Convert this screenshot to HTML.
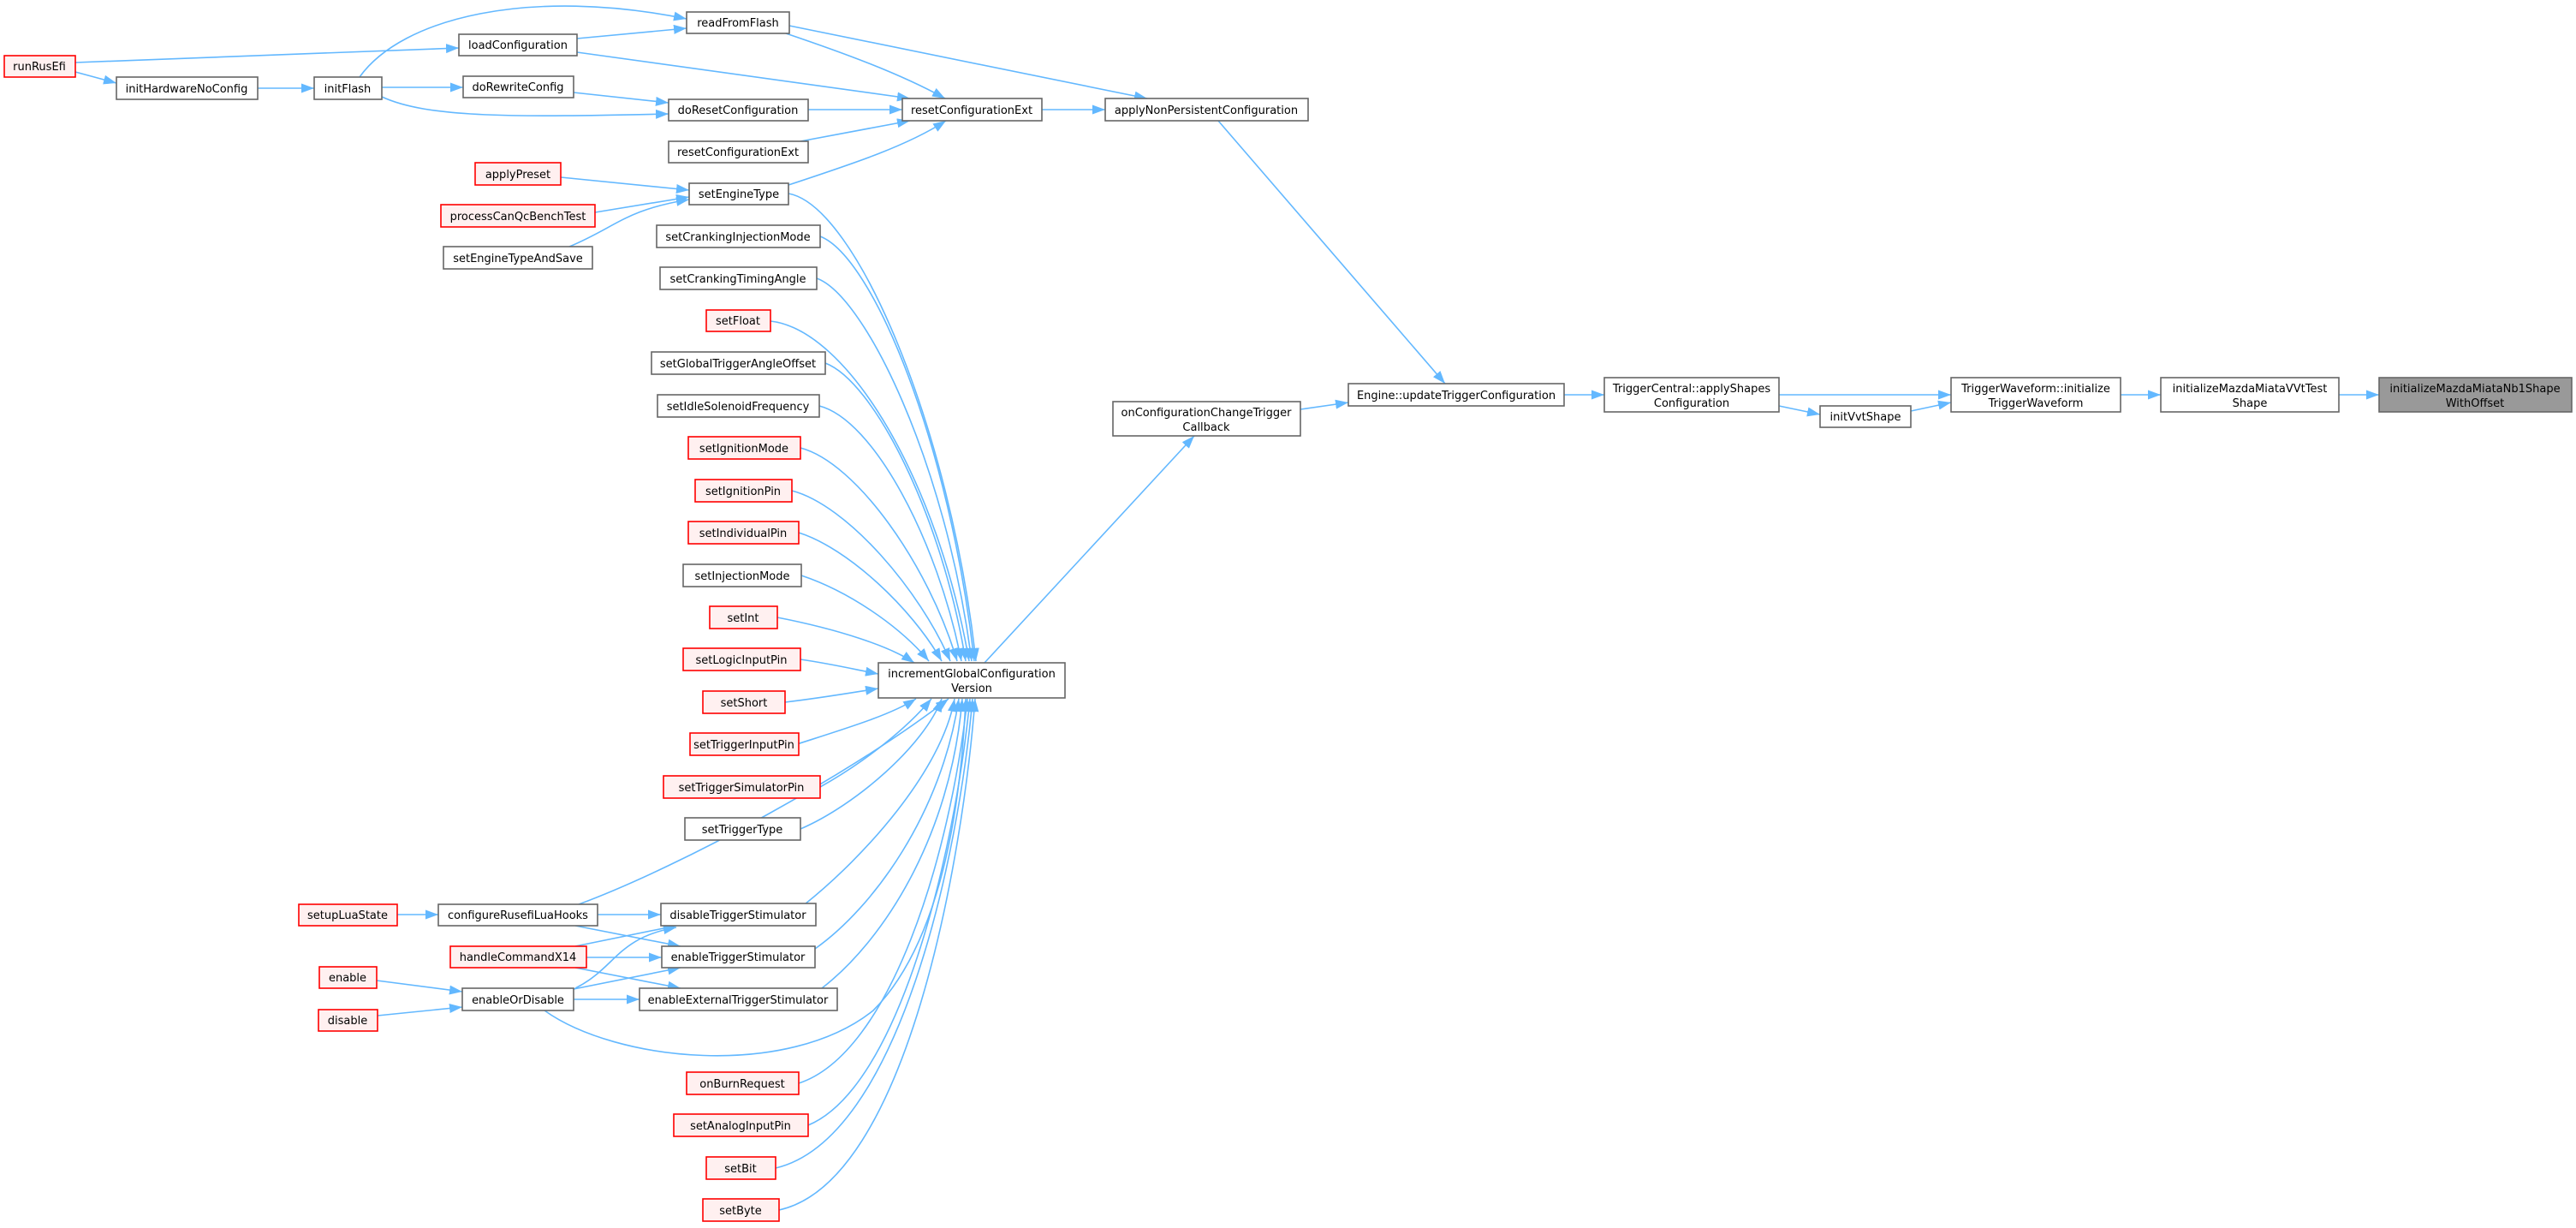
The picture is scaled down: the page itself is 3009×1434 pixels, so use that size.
<!DOCTYPE html>
<html><head><meta charset="utf-8"><style>
html,body{margin:0;padding:0;background:#fff;}
svg{display:block;}
text{font-family:"DejaVu Sans","Liberation Sans",sans-serif;font-size:13px;fill:#000;text-anchor:middle;}
.e{fill:none;stroke:#63b8ff;stroke-width:1.6;marker-end:url(#a);}
.n{fill:#fff;stroke:#666;stroke-width:1.6;}
.r{fill:#fff0f0;stroke:#ff0000;stroke-width:1.6;}
.g{fill:#999;stroke:#666;stroke-width:1.6;}
</style></head><body>
<svg width="3009" height="1434" viewBox="0 0 3009 1434" xmlns="http://www.w3.org/2000/svg">
<defs><marker id="a" markerUnits="userSpaceOnUse" markerWidth="16" markerHeight="12" refX="15" refY="5.5" orient="auto"><path d="M0,0 L15,5.5 L0,11 z" fill="#63b8ff"/></marker></defs>

<!-- edges -->
<path class="e" d="M88,73 L536,56"/>
<path class="e" d="M88,84 L136,97"/>
<path class="e" d="M301,103 L367,103"/>
<path class="e" d="M420,90 C470,20 620,-15 802,22"/>
<path class="e" d="M446,102 L541,102"/>
<path class="e" d="M446,113 C500,138 600,137 781,133"/>
<path class="e" d="M674,45 L802,33"/>
<path class="e" d="M670,108 L781,120"/>
<path class="e" d="M674,61 L1063,115"/>
<path class="e" d="M918,39 C980,60 1050,85 1104,115"/>
<path class="e" d="M922,30 L1340,115"/>
<path class="e" d="M944,128 L1054,128"/>
<path class="e" d="M935,165 L1063,141"/>
<path class="e" d="M921,216 C1000,190 1060,170 1105,141"/>
<path class="e" d="M1217,128 L1291,128"/>
<path class="e" d="M1423,141 L1688,448"/>
<path class="e" d="M1519,478 L1575,470"/>
<path class="e" d="M1150,774 L1395,509"/>
<path class="e" d="M1827,461 L1874,461"/>
<path class="e" d="M2078,461 L2279,461"/>
<path class="e" d="M2078,474 L2126,484"/>
<path class="e" d="M2232,480 L2279,470"/>
<path class="e" d="M2477,461 L2524,461"/>
<path class="e" d="M2732,461 L2779,461"/>
<path class="e" d="M655,207 L805,222"/>
<path class="e" d="M695,248 L805,230"/>
<path class="e" d="M665,288 C720,265 730,245 805,233"/>

<path class="e" d="M958,276 C1020,300 1110,520 1138,772"/>
<path class="e" d="M921,226 C1000,240 1110,500 1140,772"/>
<path class="e" d="M954,325 C1010,345 1105,540 1135,772"/>
<path class="e" d="M900,375 C990,385 1095,560 1132,772"/>
<path class="e" d="M964,424 C1020,445 1100,600 1128,772"/>
<path class="e" d="M957,474 C1020,490 1095,630 1123,772"/>
<path class="e" d="M935,523 C1000,540 1085,660 1118,772"/>
<path class="e" d="M925,573 C990,590 1075,690 1110,772"/>
<path class="e" d="M933,622 C990,640 1065,710 1100,772"/>
<path class="e" d="M936,672 C990,690 1050,730 1085,772"/>
<path class="e" d="M908,721 C980,735 1040,755 1068,774"/>
<path class="e" d="M935,770 C970,775 1000,782 1026,787"/>
<path class="e" d="M917,820 C960,815 1000,808 1026,804"/>
<path class="e" d="M931,869 C990,850 1040,835 1070,816"/>
<path class="e" d="M958,919 C1010,890 1060,850 1088,816"/>
<path class="e" d="M935,968 C1000,940 1080,870 1100,816"/>
<path class="e" d="M676,1056 C800,1010 1000,900 1108,816"/>
<path class="e" d="M940,1056 C1010,1000 1100,900 1115,816"/>
<path class="e" d="M952,1108 C1020,1060 1100,950 1120,816"/>
<path class="e" d="M960,1154 C1030,1100 1110,980 1124,816"/>
<path class="e" d="M636,1180 C720,1240 920,1260 1020,1180 C1080,1120 1120,1000 1128,816"/>
<path class="e" d="M933,1265 C1040,1230 1110,1000 1130,816"/>
<path class="e" d="M944,1314 C1050,1270 1115,1000 1133,816"/>
<path class="e" d="M906,1364 C1050,1330 1120,1000 1136,816"/>
<path class="e" d="M910,1413 C1060,1380 1125,1000 1139,816"/>

<path class="e" d="M464,1068 L512,1068"/>
<path class="e" d="M698,1068 L772,1068"/>
<path class="e" d="M672,1081 L795,1105"/>
<path class="e" d="M672,1105 L790,1081"/>
<path class="e" d="M685,1118 L773,1118"/>
<path class="e" d="M672,1130 L795,1154"/>
<path class="e" d="M440,1145 L540,1158"/>
<path class="e" d="M441,1186 L540,1176"/>
<path class="e" d="M672,1154 C720,1130 720,1095 790,1083"/>
<path class="e" d="M670,1155 L795,1130"/>
<path class="e" d="M670,1167 L747,1167"/>

<!-- nodes -->
<rect class="r" x="5" y="65" width="83" height="25"/><text x="46" y="82">runRusEfi</text>
<rect class="n" x="136" y="90" width="165" height="26"/><text x="218" y="108">initHardwareNoConfig</text>
<rect class="n" x="367" y="90" width="79" height="26"/><text x="406" y="108">initFlash</text>
<rect class="n" x="536" y="40" width="138" height="25"/><text x="605" y="57">loadConfiguration</text>
<rect class="n" x="541" y="89" width="129" height="25"/><text x="605" y="106">doRewriteConfig</text>
<rect class="n" x="802" y="14" width="120" height="25"/><text x="862" y="31">readFromFlash</text>
<rect class="n" x="781" y="116" width="163" height="25"/><text x="862" y="133">doResetConfiguration</text>
<rect class="n" x="781" y="165" width="163" height="25"/><text x="862" y="182">resetConfigurationExt</text>
<rect class="r" x="555" y="190" width="100" height="26"/><text x="605" y="208">applyPreset</text>
<rect class="n" x="805" y="214" width="116" height="25"/><text x="863" y="231">setEngineType</text>
<rect class="r" x="515" y="239" width="180" height="26"/><text x="605" y="257">processCanQcBenchTest</text>
<rect class="n" x="518" y="288" width="174" height="26"/><text x="605" y="306">setEngineTypeAndSave</text>

<rect class="n" x="767" y="263" width="191" height="26"/><text x="862" y="281">setCrankingInjectionMode</text>
<rect class="n" x="771" y="312" width="183" height="26"/><text x="862" y="330">setCrankingTimingAngle</text>
<rect class="r" x="825" y="362" width="75" height="25"/><text x="862" y="379">setFloat</text>
<rect class="n" x="761" y="411" width="203" height="26"/><text x="862" y="429">setGlobalTriggerAngleOffset</text>
<rect class="n" x="768" y="461" width="189" height="26"/><text x="862" y="479">setIdleSolenoidFrequency</text>
<rect class="r" x="804" y="510" width="131" height="26"/><text x="869" y="528">setIgnitionMode</text>
<rect class="r" x="812" y="560" width="113" height="26"/><text x="868" y="578">setIgnitionPin</text>
<rect class="r" x="804" y="609" width="129" height="26"/><text x="868" y="627">setIndividualPin</text>
<rect class="n" x="798" y="659" width="138" height="26"/><text x="867" y="677">setInjectionMode</text>
<rect class="r" x="829" y="708" width="79" height="26"/><text x="868" y="726">setInt</text>
<rect class="r" x="798" y="757" width="137" height="26"/><text x="866" y="775">setLogicInputPin</text>
<rect class="r" x="821" y="807" width="96" height="26"/><text x="869" y="825">setShort</text>
<rect class="r" x="806" y="856" width="127" height="26"/><text x="869" y="874">setTriggerInputPin</text>
<rect class="r" x="775" y="906" width="183" height="26"/><text x="866" y="924">setTriggerSimulatorPin</text>
<rect class="n" x="800" y="955" width="135" height="26"/><text x="867" y="973">setTriggerType</text>
<rect class="n" x="772" y="1055" width="181" height="26"/><text x="862" y="1073">disableTriggerStimulator</text>
<rect class="n" x="773" y="1105" width="179" height="25"/><text x="862" y="1122">enableTriggerStimulator</text>
<rect class="n" x="747" y="1154" width="231" height="26"/><text x="862" y="1172">enableExternalTriggerStimulator</text>
<rect class="r" x="802" y="1252" width="131" height="26"/><text x="867" y="1270">onBurnRequest</text>
<rect class="r" x="787" y="1301" width="157" height="26"/><text x="865" y="1319">setAnalogInputPin</text>
<rect class="r" x="825" y="1351" width="81" height="26"/><text x="865" y="1369">setBit</text>
<rect class="r" x="821" y="1400" width="89" height="26"/><text x="865" y="1418">setByte</text>

<rect class="r" x="349" y="1056" width="115" height="25"/><text x="406" y="1073">setupLuaState</text>
<rect class="n" x="512" y="1056" width="186" height="25"/><text x="605" y="1073">configureRusefiLuaHooks</text>
<rect class="r" x="526" y="1105" width="159" height="25"/><text x="605" y="1122">handleCommandX14</text>
<rect class="r" x="373" y="1129" width="67" height="25"/><text x="406" y="1146">enable</text>
<rect class="n" x="540" y="1154" width="130" height="26"/><text x="605" y="1172">enableOrDisable</text>
<rect class="r" x="372" y="1179" width="69" height="25"/><text x="406" y="1196">disable</text>

<rect class="n" x="1054" y="115" width="163" height="26"/><text x="1135" y="133">resetConfigurationExt</text>
<rect class="n" x="1291" y="115" width="237" height="26"/><text x="1409" y="133">applyNonPersistentConfiguration</text>
<rect class="n" x="1026" y="774" width="218" height="41"/><text x="1135" y="791">incrementGlobalConfiguration</text><text x="1135" y="808">Version</text>
<rect class="n" x="1300" y="469" width="219" height="40"/><text x="1409" y="486">onConfigurationChangeTrigger</text><text x="1409" y="503">Callback</text>
<rect class="n" x="1575" y="448" width="252" height="26"/><text x="1701" y="466">Engine::updateTriggerConfiguration</text>
<rect class="n" x="1874" y="441" width="204" height="40"/><text x="1976" y="458">TriggerCentral::applyShapes</text><text x="1976" y="475">Configuration</text>
<rect class="n" x="2126" y="474" width="106" height="25"/><text x="2179" y="491">initVvtShape</text>
<rect class="n" x="2279" y="441" width="198" height="40"/><text x="2378" y="458">TriggerWaveform::initialize</text><text x="2378" y="475">TriggerWaveform</text>
<rect class="n" x="2524" y="441" width="208" height="40"/><text x="2628" y="458">initializeMazdaMiataVVtTest</text><text x="2628" y="475">Shape</text>
<rect class="g" x="2779" y="441" width="225" height="40"/><text x="2891" y="458">initializeMazdaMiataNb1Shape</text><text x="2891" y="475">WithOffset</text>
</svg>
</body></html>
